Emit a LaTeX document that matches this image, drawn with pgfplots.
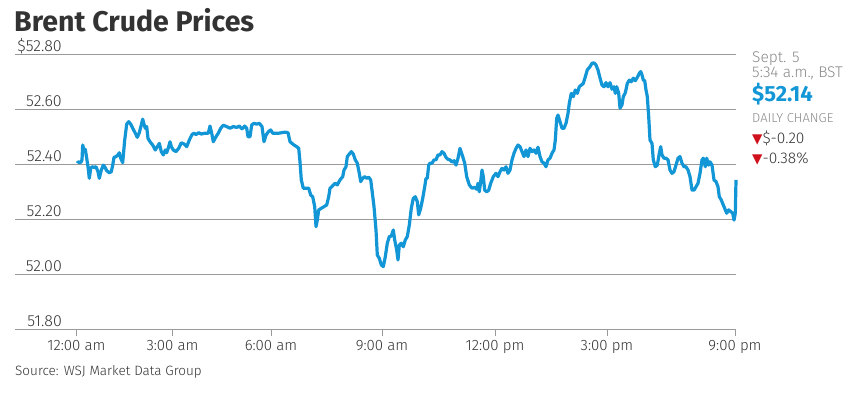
\documentclass[border=0pt]{standalone}
\usepackage{fontspec}
\setmainfont{Fira Sans Light}
\newfontfamily\boldfont{Fira Sans Bold}
\newfontfamily\symfont{DejaVu Sans}
\usepackage{pgfplots}
\pgfplotsset{compat=1.18}
\definecolor{wsjblue}{HTML}{1396D6}
\definecolor{txt}{HTML}{333333}
\definecolor{lgray}{HTML}{8A8A8A}
\definecolor{gridc}{HTML}{9A9A9A}
\definecolor{wsjred}{HTML}{D0101B}
\begin{document}
\begin{tikzpicture}
\path[use as bounding box] (0pt,0pt) rectangle (862pt,392pt);
\begin{axis}[
  at={(15pt,63pt)}, anchor=south west,
  scale only axis, width=721pt, height=275pt,
  xmin=15, xmax=736, ymin=51.80, ymax=52.80,
  axis line style={draw=none},
  ymajorgrids, major grid style={draw=gridc, line width=1pt},
  ytick={51.80,52.00,52.20,52.40,52.60,52.80},
  yticklabels={51.80,52.00,52.20,52.40,52.60,\$52.80},
  xtick={76.5,172.5,271,382,495,607,735},
  xticklabels={12:00 am,3:00 am,6:00 am,9:00 am,12:00 pm,3:00 pm,9:00 pm},
  tick align=outside, major tick length=7pt,
  xtick pos=bottom, ytick pos=left,
  xtick style={draw=gridc, line width=0.8pt},
  ytick style={draw=none},
  yticklabel style={anchor=base east, inner sep=0pt, xshift=54pt, yshift=3pt, font=\fontsize{16}{18}\selectfont, text=txt},
  xticklabel style={anchor=north, inner sep=0pt, yshift=-4pt, font=\fontsize{15}{17}\selectfont, text=txt},
  clip=false,
]
\addplot[color=wsjblue, line width=3.2pt, line join=round] table {
77.3 52.403
78.3 52.408
80.7 52.405
82 52.415
82.7 52.469
84 52.451
85.3 52.453
86.7 52.421
88 52.390
89.3 52.348
90.7 52.384
92 52.390
94 52.388
96 52.390
98 52.372
99.3 52.348
101.3 52.378
103.3 52.396
104.7 52.390
106.7 52.376
109.3 52.368
111.3 52.372
112.7 52.396
114 52.424
116 52.427
118 52.433
119.3 52.441
120.7 52.421
122.7 52.405
124.7 52.487
126.7 52.545
128.7 52.554
130.7 52.545
132.7 52.530
135.3 52.512
137.3 52.497
139.3 52.514
141.3 52.542
142.7 52.563
144 52.545
145.3 52.530
146.7 52.536
148 52.493
150 52.481
152.7 52.469
155.3 52.451
157.3 52.463
159.3 52.475
161.3 52.445
163.3 52.433
165.3 52.451
166.7 52.441
168.7 52.463
170 52.481
171.3 52.463
173.3 52.451
176 52.445
178.7 52.457
181.3 52.477
184 52.473
186.7 52.463
189.3 52.487
192 52.507
194 52.512
196 52.507
198.7 52.514
201.3 52.509
205 52.512
208.3 52.512
210 52.538
211.7 52.512
213.3 52.481
216 52.499
218.3 52.512
220.7 52.530
223.3 52.541
226.7 52.536
230 52.530
233.3 52.536
236.7 52.533
239.3 52.538
242 52.528
244.7 52.538
246.7 52.530
248 52.499
250 52.499
251.7 52.542
254 52.548
256.7 52.545
259.3 52.548
262 52.536
264 52.481
266 52.505
268.3 52.517
270.7 52.524
272.7 52.512
275.3 52.512
278.7 52.512
282 52.514
285.3 52.516
288 52.514
290 52.481
292 52.475
294 52.469
296.7 52.463
298.7 52.457
300 52.408
301.3 52.342
303.3 52.312
306 52.312
308.7 52.312
310.7 52.287
312.7 52.281
314.7 52.245
316 52.172
317.3 52.196
318.7 52.233
321.3 52.239
324 52.245
326.7 52.251
328.7 52.281
330 52.312
331.7 52.317
335 52.330
337.3 52.324
340 52.342
342.7 52.354
344 52.378
346 52.390
347.3 52.427
349.3 52.436
351.3 52.445
353.3 52.436
355.3 52.415
357.3 52.403
359.3 52.366
360.7 52.336
362.7 52.348
364.7 52.354
366.7 52.348
368.7 52.352
370.7 52.342
372 52.305
374 52.245
376 52.160
377.3 52.069
379.3 52.057
381.3 52.033
383.3 52.027
385.3 52.063
387.3 52.112
389.3 52.136
391.3 52.138
393.3 52.160
394.7 52.124
396.7 52.087
398 52.051
399.3 52.105
401.3 52.112
403.3 52.099
405.3 52.124
407.3 52.136
409.3 52.178
411.3 52.239
413.3 52.275
415.3 52.281
417.3 52.263
418.7 52.215
420.7 52.239
422.7 52.275
424.7 52.317
426 52.348
427.3 52.348
428.7 52.396
430 52.403
432 52.403
434 52.415
436 52.415
438 52.433
440 52.433
442 52.445
444 52.439
446 52.424
448 52.417
450 52.415
452 52.407
454 52.412
456 52.396
458 52.421
460 52.457
462.7 52.427
464.7 52.403
466.7 52.354
469.3 52.324
472 52.312
474.7 52.315
476.7 52.308
478 52.330
479.3 52.299
480.7 52.336
482 52.378
483.3 52.354
484.7 52.305
486.7 52.299
488.7 52.305
490.7 52.330
493.3 52.354
496 52.366
498 52.354
500 52.372
502 52.384
504 52.378
506 52.390
508 52.366
510 52.378
512 52.415
514 52.439
516 52.457
518 52.469
520 52.463
522 52.445
524 52.427
526 52.451
528 52.427
530 52.457
532 52.445
534 52.451
536 52.439
538 52.461
540 52.427
542 52.408
544 52.403
546 52.390
548 52.415
550 52.421
552 52.439
554 52.451
555.3 52.487
556.7 52.566
558 52.578
560 52.554
562 52.530
564 52.530
566 52.548
568 52.584
569.3 52.621
571.3 52.657
573.3 52.645
575.3 52.669
577.3 52.657
579.3 52.681
581.3 52.687
583.3 52.693
585.3 52.717
587.3 52.742
590 52.754
592 52.766
594 52.768
596 52.760
598 52.742
600 52.713
602 52.687
604 52.681
606 52.696
608 52.681
610 52.696
612 52.672
614 52.681
615.3 52.657
616.7 52.681
618.7 52.657
620 52.603
622 52.615
623.3 52.645
625.3 52.659
627.3 52.693
629.3 52.705
631.3 52.699
633.3 52.712
635.3 52.703
637.3 52.715
639.3 52.730
640.7 52.736
642 52.724
643.3 52.705
644.7 52.703
646 52.669
647.3 52.645
648.7 52.572
650 52.487
652 52.475
653.3 52.415
655.3 52.390
657.3 52.396
659.3 52.439
660.7 52.463
662 52.433
664 52.421
666 52.421
668 52.415
670 52.378
672 52.366
674 52.372
676 52.396
678 52.421
680 52.427
682 52.403
684 52.390
686 52.390
688 52.378
690 52.354
692 52.305
694 52.305
696 52.317
698 52.330
700 52.366
702 52.415
703.3 52.421
705.3 52.390
706.7 52.421
708.7 52.396
710 52.408
712 52.396
714 52.342
716 52.336
718 52.317
719.3 52.281
721.3 52.269
723.3 52.251
725.3 52.233
726.7 52.221
728.7 52.233
730.7 52.227
732.7 52.221
734 52.196
735.3 52.221
736 52.342
};
\end{axis}
\node[anchor=base west, inner sep=0pt, text=txt] at (14pt,360pt) {\boldfont\fontsize{28.5}{31}\selectfont Brent Crude Prices};
\node[anchor=base west, inner sep=0pt, text=txt] at (15pt,17pt) {\fontsize{13.5}{15}\selectfont Source: WSJ Market Data Group};
\node[anchor=base west, inner sep=0pt, text=lgray] at (752pt,330pt) {\fontsize{15.5}{17}\selectfont Sept. 5};
\node[anchor=base west, inner sep=0pt, text=lgray] at (752pt,315pt) {\fontsize{15.5}{17}\selectfont 5:34 a.m., BST};
\node[anchor=base west, inner sep=0pt, text=wsjblue] at (752pt,291pt) {\boldfont\fontsize{22}{24}\selectfont \$52.14};
\node[anchor=base west, inner sep=0pt, text=lgray] at (752pt,270pt) {\fontsize{13}{15}\selectfont DAILY CHANGE};
\node[anchor=base west, inner sep=0pt, text=txt] at (752pt,249pt) {{\symfont\fontsize{13.5}{15}\selectfont\color{wsjred}▼}\fontsize{15.5}{17}\selectfont \$-0.20};
\node[anchor=base west, inner sep=0pt, text=txt] at (752pt,229pt) {{\symfont\fontsize{13.5}{15}\selectfont\color{wsjred}▼}\fontsize{15.5}{17}\selectfont -0.38\%};
\end{tikzpicture}
\end{document}
